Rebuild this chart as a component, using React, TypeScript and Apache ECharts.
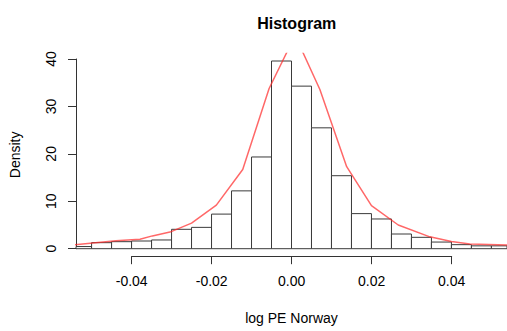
import React, { useEffect, useRef } from "react";
import * as echarts from "echarts";

// Histogram bin edges and densities
const breaks = [
  -0.055, -0.05, -0.045, -0.04, -0.035, -0.03, -0.025, -0.02, -0.015, -0.01, -0.005,
  0, 0.005, 0.01, 0.015, 0.02, 0.025, 0.03, 0.035, 0.04, 0.045, 0.05, 0.055,
];
const densities = [
  0.45, 1.27, 1.48, 1.62, 1.84, 4.09, 4.5, 7.3, 12.2, 19.35, 39.6,
  34.3, 25.5, 15.4, 7.4, 6.27, 3.1, 2.4, 1.4, 0.85, 0.6, 0.6,
];

// Fitted density curve (red line)
const curveX = [
  -0.055, -0.0439, -0.0379, -0.0348, -0.0304, -0.025, -0.0188, -0.0122, -0.0056,
  0.0009, 0.0071, 0.0138, 0.02, 0.0267, 0.0346, 0.04, 0.0446, 0.055,
];
const curveY = [
  0.75, 1.7, 2.0, 2.7, 3.5, 5.4, 9.2, 16.7, 33.8,
  45, 33.6, 17.3, 9.1, 5.0, 2.5, 1.5, 1.0, 0.75,
];

const xTicks = { min: -0.04, max: 0.04, step: 0.02 };
const yTicks = { min: 0, max: 40, step: 10 };

const FONT = "'Liberation Sans', Arial, Helvetica, sans-serif";

export default function App() {
  const ref = useRef<HTMLDivElement>(null);
  useEffect(() => {
    if (!ref.current) return;
    const chart = echarts.init(ref.current, null, { renderer: "svg" });
    const histData = densities.map((d, i) => [breaks[i], breaks[i + 1], d]);
    const curveData = curveX.map((x, i) => [x, curveY[i]]);
    const axisColor = "#333";

    chart.setOption({
      animation: false,
      backgroundColor: "#fff",
      textStyle: { fontFamily: FONT },
      title: {
        text: "Histogram",
        left: 291.7,
        textAlign: "center",
        top: 10,
        textStyle: { fontFamily: FONT, fontSize: 16, fontWeight: "bold", color: "#000" },
      },
      grid: [
        { left: 76, right: 0, top: 53.5, bottom: 74.8 },
        { left: 131.7, width: 320, top: 53.5, bottom: 74.8 },
        { left: 76, right: 0, top: 59, bottom: 82.3 },
      ],
      xAxis: [
        {
          gridIndex: 0,
          type: "value",
          min: -0.0539,
          max: 0.0539,
          axisLine: { show: false },
          axisTick: { show: false },
          axisLabel: { show: false },
          splitLine: { show: false },
          name: "log PE Norway",
          nameLocation: "middle",
          nameGap: 55,
          nameTextStyle: { fontFamily: FONT, fontSize: 14, color: "#000" },
        },
        {
          gridIndex: 1,
          type: "value",
          min: xTicks.min,
          max: xTicks.max,
          interval: xTicks.step,
          axisLine: { show: true, lineStyle: { color: axisColor, width: 1 } },
          axisTick: { show: true, length: 8, inside: false, lineStyle: { color: axisColor } },
          axisLabel: {
            show: true,
            fontFamily: FONT,
            fontSize: 14,
            color: "#000",
            margin: 18,
            formatter: (v: number) => (Math.abs(v) < 1e-9 ? "0.00" : v.toFixed(2)),
          },
          splitLine: { show: false },
        },
        { gridIndex: 2, type: "value", show: false, min: 0, max: 1 },
      ],
      yAxis: [
        {
          gridIndex: 0,
          type: "value",
          min: -1.584,
          max: 41.184,
          axisLine: { show: false },
          axisTick: { show: false },
          axisLabel: { show: false },
          splitLine: { show: false },
          name: "Density",
          nameLocation: "middle",
          nameGap: 54,
          nameTextStyle: { fontFamily: FONT, fontSize: 14, color: "#000" },
        },
        { gridIndex: 1, type: "value", show: false, min: 0, max: 1 },
        {
          gridIndex: 2,
          type: "value",
          min: yTicks.min,
          max: yTicks.max,
          interval: yTicks.step,
          axisLine: { show: true, lineStyle: { color: axisColor, width: 1 } },
          axisTick: { show: true, length: 8, inside: false, lineStyle: { color: axisColor } },
          axisLabel: {
            show: true,
            fontFamily: FONT,
            fontSize: 14,
            color: "#000",
            rotate: 90,
            margin: 18,
          },
          splitLine: { show: false },
        },
      ],
      series: [
        {
          type: "custom",
          xAxisIndex: 0,
          yAxisIndex: 0,
          data: histData,
          renderItem: (params: any, api: any) => {
            const p0 = api.coord([api.value(0), 0]);
            const p1 = api.coord([api.value(1), api.value(2)]);
            const cs = params.coordSys;
            const rect = echarts.graphic.clipRectByRect(
              { x: p0[0], y: p1[1], width: p1[0] - p0[0], height: p0[1] - p1[1] },
              { x: cs.x, y: cs.y, width: cs.width, height: cs.height }
            );
            if (!rect) return null;
            return {
              type: "rect",
              shape: rect,
              style: { fill: "#fff", stroke: "#3a3a3a", lineWidth: 1 },
            };
          },
        },
        {
          type: "line",
          xAxisIndex: 0,
          yAxisIndex: 0,
          data: curveData,
          symbol: "none",
          clip: true,
          lineStyle: { color: "rgba(255,40,40,0.7)", width: 1.5 },
          z: 5,
        },
      ],
    });
    return () => chart.dispose();
  }, []);

  return (
    <div
      ref={ref}
      style={{ position: "fixed", left: 0, top: 0, width: 507, height: 331, background: "#fff" }}
    />
  );
}
